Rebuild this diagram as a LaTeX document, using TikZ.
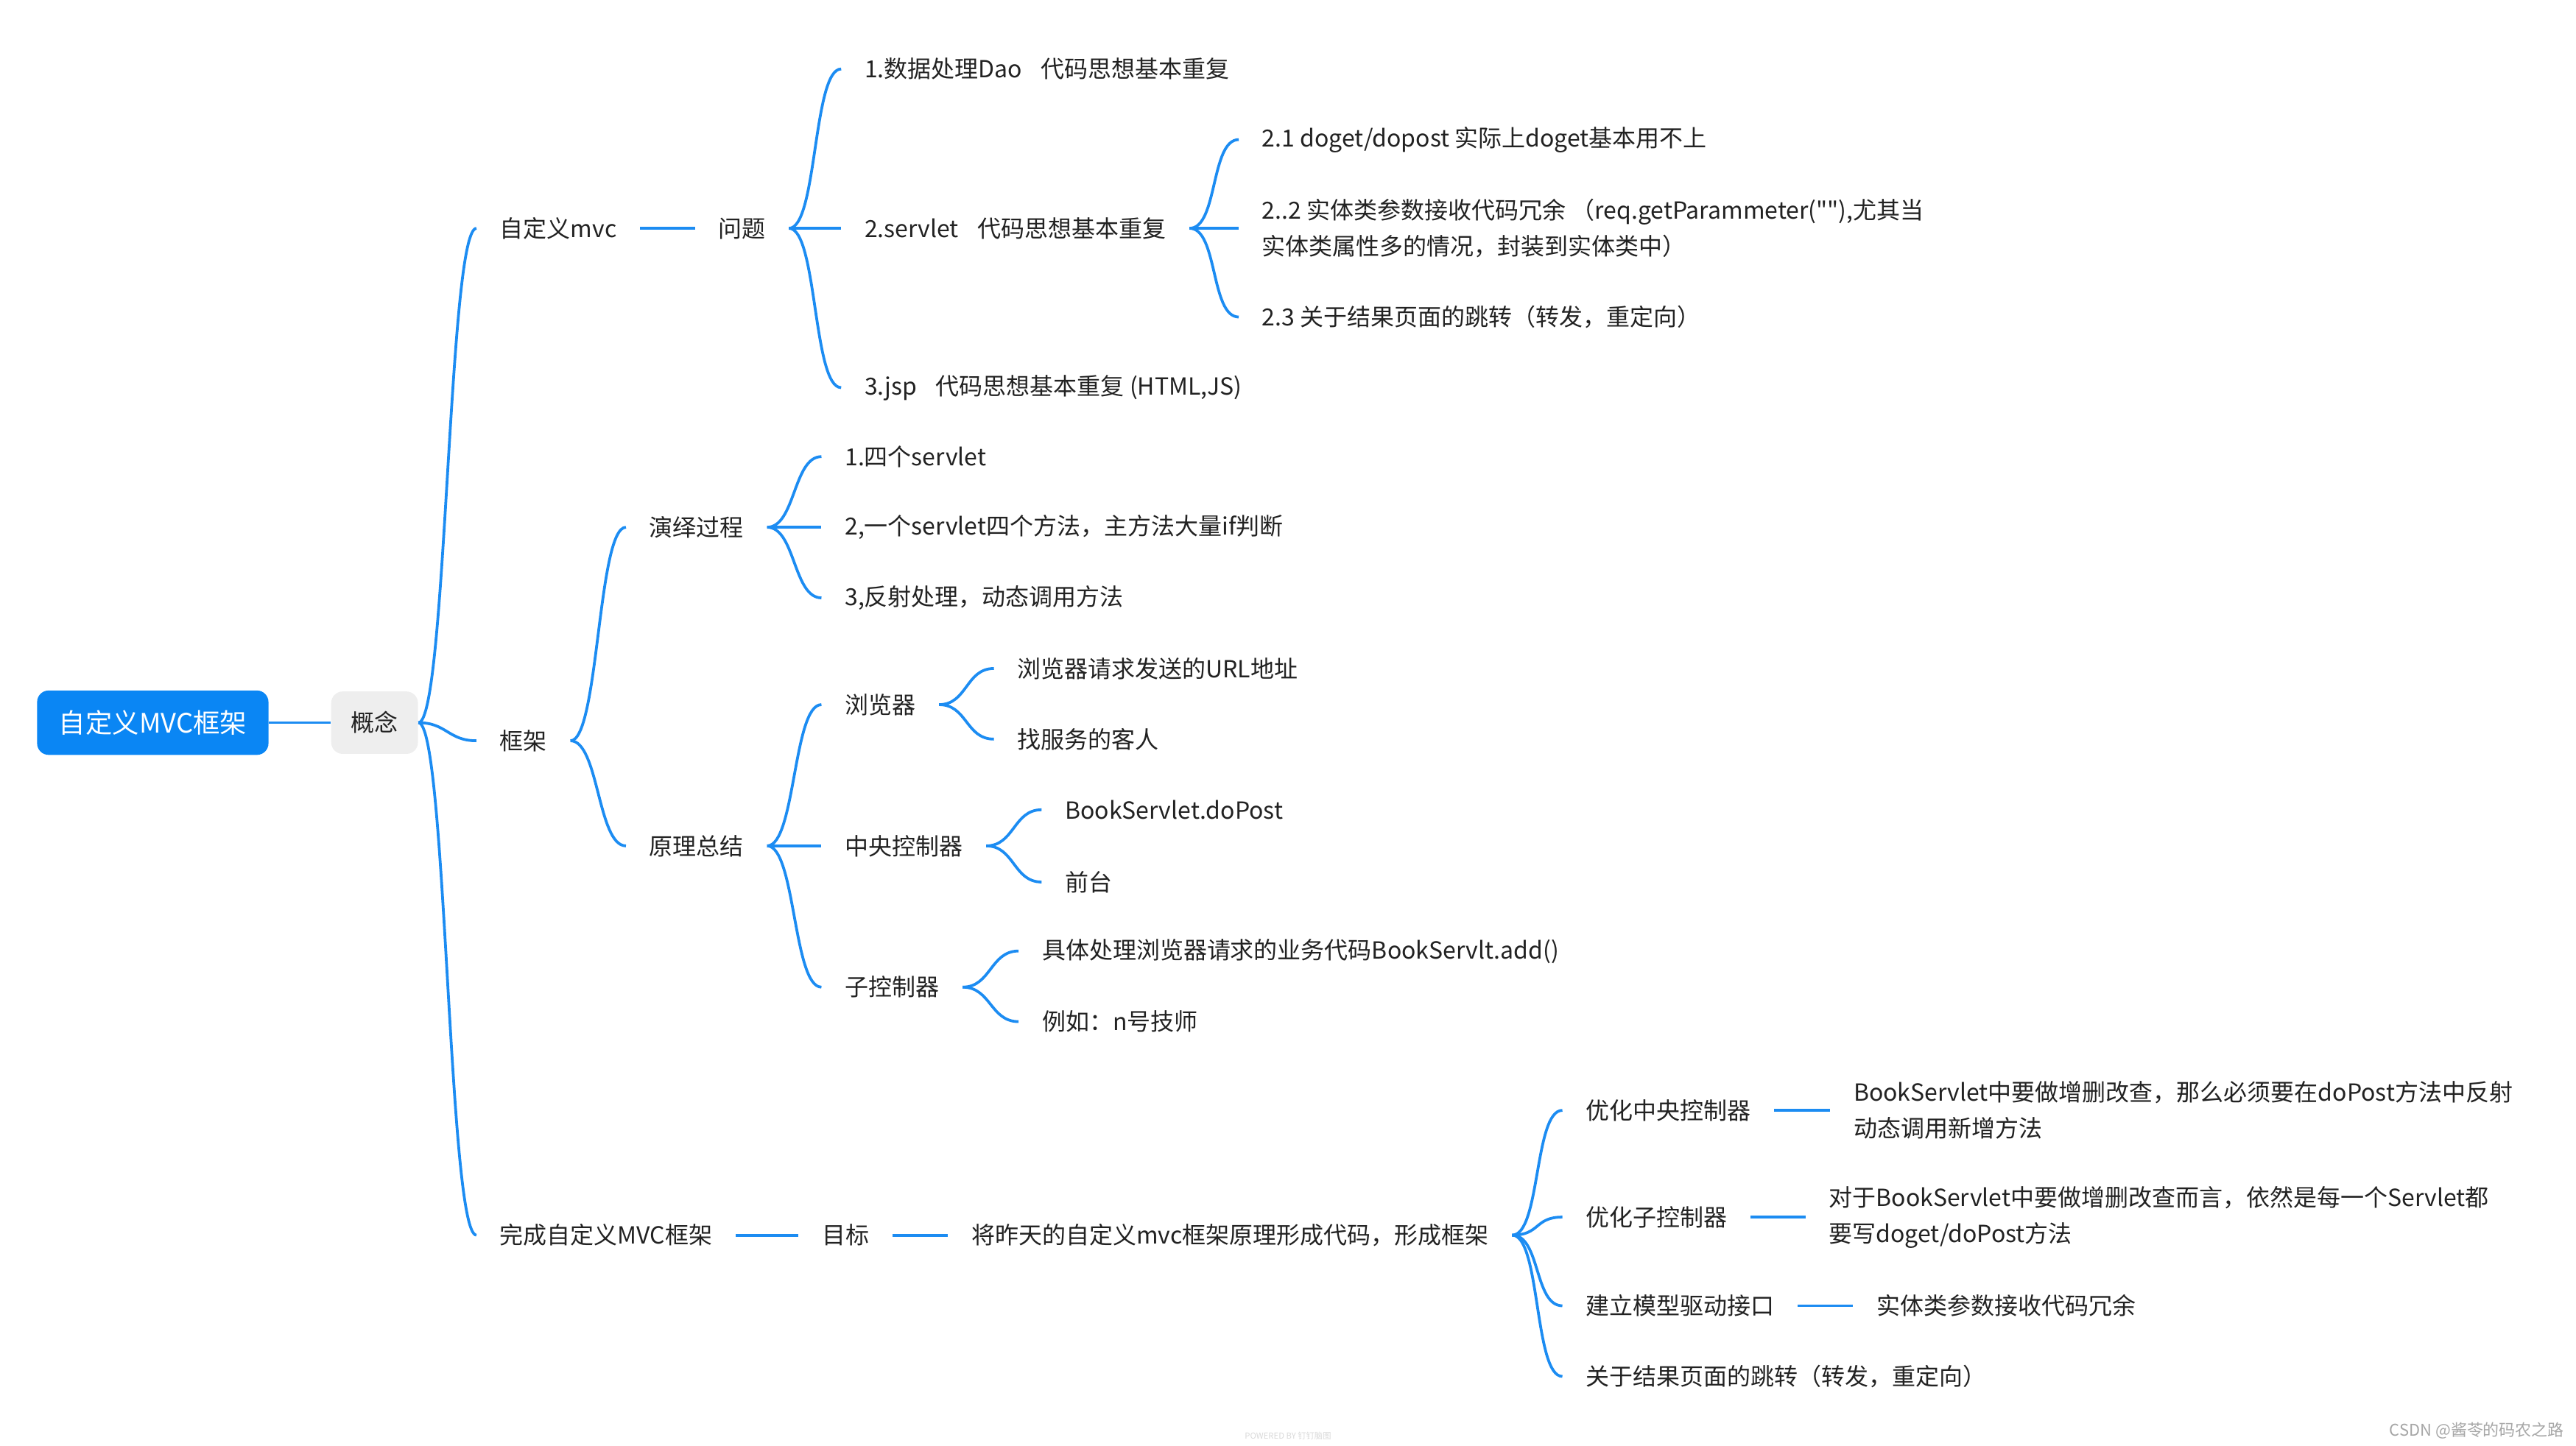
\documentclass[tikz,border=0pt]{standalone}
\usepackage{fontspec}
\setmainfont{Noto Sans CJK SC}[Ligatures=TeXOff]
\usepackage{xcolor}
\usepackage{tikz}
\definecolor{MapBlue}{HTML}{1C8CF2}
\definecolor{RootBlue}{HTML}{0A86F4}
\definecolor{TagGray}{HTML}{EEEEEE}
\definecolor{TextDark}{HTML}{222222}
\definecolor{MarkGray}{HTML}{A6A6A6}

\begin{document}
\begin{tikzpicture}[x=0.025cm,y=-0.025cm,
  every node/.style={text=TextDark, font=\fontsize{10.2pt}{15.6pt}\selectfont},
  topic/.style={anchor=west, inner xsep=0.35cm, inner ysep=1pt, align=left},
  link/.style={draw=MapBlue, line width=1.2pt},
  fork/.style={out=0, in=180, distance=0.43cm}]
  \useasboundingbox (0,0) rectangle (1568,880);

  \node[fill=RootBlue, rounded corners=5pt, minimum width=3.52cm, minimum height=0.98cm,
    text=white, font=\fontsize{11.6pt}{14pt}\selectfont] (root) at (93,440) {自定义MVC框架};
  \node[fill=TagGray, rounded corners=5pt, minimum width=1.32cm, minimum height=0.95cm] (gn) at (228,440) {概念};
  \draw[link] (root) -- (gn);

  \foreach \y/\n/\txt in {139/mvc/{自定义mvc}, 451/kj/{框架}, 752/wc/{完成自定义MVC框架}}{
    \node[topic] (\n) at (290,\y) {\txt};
    \draw[link] (gn.east) to[fork] (\n.west);
  }

  \node[topic] (wt) at (423,139) {问题};
  \draw[link] (mvc) -- (wt);
  \foreach \y/\n/\txt in {
    42/wt1/{1.数据处理Dao\hspace{0.8em}代码思想基本重复},
    139/wt2/{2.servlet\hspace{0.8em}代码思想基本重复},
    236/wt3/{3.jsp\hspace{0.8em}代码思想基本重复 (HTML,JS)}}{
    \node[topic] (\n) at (512,\y) {\txt};
    \draw[link] (wt.east) to[fork] (\n.west);
  }
  \foreach \y/\n/\txt in {
    85/sv1/{2.1 doget/dopost 实际上doget基本用不上},
    139/sv2/{2..2 实体类参数接收代码冗余 （req.getParammeter(""),尤其当\\实体类属性多的情况，封装到实体类中）},
    193/sv3/{2.3 关于结果页面的跳转（转发，重定向）}}{
    \node[topic] (\n) at (754,\y) {\txt};
    \draw[link] (wt2.east) to[fork] (\n.west);
  }

  \foreach \y/\n/\txt in {321/yy/{演绎过程}, 515/yl/{原理总结}}{
    \node[topic] (\n) at (381,\y) {\txt};
    \draw[link] (kj.east) to[fork] (\n.west);
  }
  \foreach \y/\n/\txt in {
    278/yy1/{1.四个servlet},
    321/yy2/{2,一个servlet四个方法，主方法大量if判断},
    364/yy3/{3,反射处理，动态调用方法}}{
    \node[topic] (\n) at (500,\y) {\txt};
    \draw[link] (yy.east) to[fork] (\n.west);
  }
  \foreach \y/\n/\txt in {429/llq/{浏览器}, 515/zy/{中央控制器}, 601/zk/{子控制器}}{
    \node[topic] (\n) at (500,\y) {\txt};
    \draw[link] (yl.east) to[fork] (\n.west);
  }
  \foreach \y/\n/\txt in {407/llq1/{浏览器请求发送的URL地址}, 450/llq2/{找服务的客人}}{
    \node[topic] (\n) at (605,\y) {\txt};
    \draw[link] (llq.east) to[fork] (\n.west);
  }
  \foreach \y/\n/\txt in {493/zy1/{BookServlet.doPost}, 537/zy2/{前台}}{
    \node[topic] (\n) at (634,\y) {\txt};
    \draw[link] (zy.east) to[fork] (\n.west);
  }
  \foreach \y/\n/\txt in {579/zk1/{具体处理浏览器请求的业务代码BookServlt.add()}, 622/zk2/{例如：n号技师}}{
    \node[topic] (\n) at (620,\y) {\txt};
    \draw[link] (zk.east) to[fork] (\n.west);
  }

  \node[topic] (mb) at (486,752) {目标};
  \node[topic] (jz) at (577,752) {将昨天的自定义mvc框架原理形成代码，形成框架};
  \draw[link] (wc) -- (mb);
  \draw[link] (mb) -- (jz);
  \foreach \y/\n/\txt in {
    676/yh1/{优化中央控制器},
    741/yh2/{优化子控制器},
    795/jl/{建立模型驱动接口},
    838/gy/{关于结果页面的跳转（转发，重定向）}}{
    \node[topic] (\n) at (951,\y) {\txt};
    \draw[link] (jz.east) to[fork] (\n.west);
  }
  \node[topic] (yh1n) at (1114,676) {BookServlet中要做增删改查，那么必须要在doPost方法中反射\\动态调用新增方法};
  \node[topic] (yh2n) at (1099,741) {对于BookServlet中要做增删改查而言，依然是每一个Servlet都\\要写doget/doPost方法};
  \node[topic] (jln) at (1128,795) {实体类参数接收代码冗余};
  \draw[link] (yh1) -- (yh1n);
  \draw[link] (yh2) -- (yh2n);
  \draw[link] (jl) -- (jln);

  \node[text=black!15, font=\fontsize{3.6pt}{4pt}\selectfont] (pw) at (784,874) {POWERED BY 钉钉脑图};
  \node[anchor=east, inner sep=0pt, text=MarkGray, font=\fontsize{7pt}{8pt}\selectfont] (csdn) at (1561,871) {CSDN @酱苓的码农之路};
\end{tikzpicture}
\end{document}
